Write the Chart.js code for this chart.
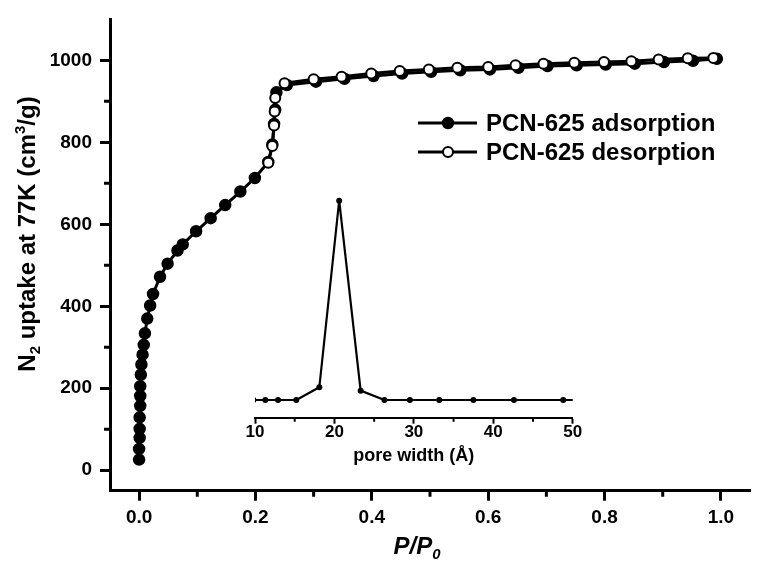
<!DOCTYPE html>
<html><head><meta charset="utf-8">
<script src="https://cdn.jsdelivr.net/npm/chart.js@4/dist/chart.umd.min.js"></script>
<style>
html,body{margin:0;padding:0;background:#fff;}
#wrap{position:relative;width:757px;height:565px;}
canvas{position:absolute;left:0;top:0;}
#inset{pointer-events:none;}
</style></head><body>
<div id="wrap"><canvas id="main" width="757" height="565"></canvas><canvas id="inset" width="757" height="565"></canvas></div>
<script>
// ---- data ----
const seriesLabels = ['PCN-625 adsorption', 'PCN-625 desorption'];
const adsP = [0.000,0.000,0.001,0.001,0.001,0.002,0.002,0.002,0.003,0.004,0.006,0.008,0.010,0.014,0.019,0.024,0.036,0.049,0.066,0.075,0.098,0.123,0.148,0.174,0.199,0.222,0.229,0.232,0.234,0.236,0.254,0.304,0.353,0.403,0.452,0.502,0.552,0.603,0.652,0.702,0.752,0.802,0.852,0.902,0.952,0.993];
const adsV = [26,52,79,101,129,157,181,205,233,258,282,306,334,370,402,430,472,504,536,551,583,615,647,680,713,752,795,845,880,922,940,948,955,962,968,972,976,978,982,986,988,990,992,996,999,1004];
const desP = [0.987,0.943,0.893,0.846,0.799,0.748,0.695,0.647,0.600,0.547,0.498,0.448,0.399,0.348,0.300,0.250,0.234,0.233,0.232,0.229,0.222];
const desV = [1006,1005,1002,998,996,994,992,988,984,982,978,974,968,960,954,944,908,875,841,791,750];
const poreW = [9.8,11.3,12.9,15.2,18.1,20.6,23.3,26.3,29.5,33.2,37.5,42.6,48.8,54];
const poreDist = [0,0,0,0,0.064,1,0.047,0,0,0,0,0,0,0];
const xTicks = [0,0.2,0.4,0.6,0.8,1.0];
const xMinor = [0.1,0.3,0.5,0.7,0.9];
const yTicks = [0,200,400,600,800,1000];
const yMinor = [100,300,500,700,900];
const insetTicks = [10,20,30,40,50];
const insetMinor = [15,25,35,45];

const FAM = "'Liberation Sans', Arial, sans-serif";

function drawRich(ctx, parts, cx, cy, rot, size, style) {
  ctx.save();
  ctx.translate(cx, cy);
  ctx.rotate(rot);
  ctx.fillStyle = '#000';
  ctx.textBaseline = 'alphabetic';
  ctx.textAlign = 'left';
  let total = 0;
  parts.forEach(p => {
    ctx.font = style + ' ' + (size * p.s) + 'px ' + FAM;
    p.w = ctx.measureText(p.t).width;
    total += p.w;
  });
  let x = -total / 2;
  const base = 0.358 * size;
  parts.forEach(p => {
    ctx.font = style + ' ' + (size * p.s) + 'px ' + FAM;
    ctx.fillText(p.t, x, base + p.dy * size);
    x += p.w;
  });
  ctx.restore();
}

const mainDecor = {
  id: 'mainDecor',
  afterDraw(chart) {
    const {ctx, chartArea: a, scales: {x, y}} = chart;
    ctx.save();
    ctx.strokeStyle = '#000';
    ctx.lineWidth = 3;
    ctx.beginPath();
    xMinor.forEach(v => { const p = x.getPixelForValue(v); ctx.moveTo(p, a.bottom); ctx.lineTo(p, a.bottom + 6); });
    yMinor.forEach(v => { const p = y.getPixelForValue(v); ctx.moveTo(a.left, p); ctx.lineTo(a.left - 6, p); });
    ctx.stroke();
    ctx.restore();
    // axis titles
    drawRich(ctx, [
      {t: 'N', s: 1, dy: 0}, {t: '2', s: 0.62, dy: 0.22},
      {t: ' uptake at 77K (cm', s: 1, dy: 0}, {t: '3', s: 0.62, dy: -0.38},
      {t: '/g)', s: 1, dy: 0}
    ], 26, 234, -Math.PI / 2, 24, 'bold');
    drawRich(ctx, [
      {t: 'P/P', s: 1, dy: 0}, {t: '0', s: 0.62, dy: 0.22}
    ], 417, 545, 0, 24, 'italic bold');
    // legend
    const rows = [{ds: chart.data.datasets[1], y: 123}, {ds: chart.data.datasets[0], y: 152}];
    rows.forEach(r => {
      ctx.save();
      ctx.strokeStyle = '#000';
      ctx.lineWidth = 3;
      ctx.beginPath(); ctx.moveTo(418, r.y); ctx.lineTo(477, r.y); ctx.stroke();
      ctx.beginPath(); ctx.arc(448, r.y, r.ds.pointRadius, 0, Math.PI * 2);
      ctx.fillStyle = r.ds.pointBackgroundColor; ctx.fill();
      ctx.lineWidth = r.ds.pointBorderWidth; ctx.strokeStyle = r.ds.pointBorderColor; ctx.stroke();
      ctx.fillStyle = '#000';
      ctx.font = 'bold 24px ' + FAM;
      ctx.textBaseline = 'middle';
      ctx.textAlign = 'left';
      ctx.fillText(r.ds.label, 486, r.y + 1);
      ctx.restore();
    });
  }
};

new Chart(document.getElementById('main'), {
  type: 'line',
  data: {
    datasets: [
      {label: seriesLabels[1], data: desP.map((p, i) => ({x: p, y: desV[i]})), borderColor: '#000', borderWidth: 3,
       pointRadius: 5, pointBorderWidth: 2, pointBackgroundColor: '#fff', pointBorderColor: '#000', tension: 0, order: 0,
       borderJoinStyle: 'round'},
      {label: seriesLabels[0], data: adsP.map((p, i) => ({x: p, y: adsV[i]})), borderColor: '#000', borderWidth: 3,
       pointRadius: 5.5, pointBorderWidth: 1.5, pointBackgroundColor: '#000', pointBorderColor: '#000', tension: 0, order: 1,
       borderJoinStyle: 'round'}
    ]
  },
  options: {
    responsive: false, animation: false, devicePixelRatio: 1,
    layout: {padding: {left: 0, right: 2, top: 15, bottom: 0}},
    plugins: {legend: {display: false}, tooltip: {enabled: false}},
    scales: {
      x: {type: 'linear', min: -0.05, max: 1.05,
        afterBuildTicks: s => { s.ticks = xTicks.map(v => ({value: v})); },
        afterFit: s => { s.height = 74.3; },
        border: {display: true, width: 3, color: '#000'},
        grid: {drawOnChartArea: false, drawTicks: true, tickLength: 10, tickWidth: 3, tickColor: '#000'},
        ticks: {color: '#000', font: {family: FAM, size: 19, weight: 'bold'}, padding: 6, maxRotation: 0,
          callback: v => Number(v).toFixed(1)}
      },
      y: {type: 'linear', min: -50, max: 1100,
        afterBuildTicks: s => { s.ticks = yTicks.map(v => ({value: v})); },
        afterFit: s => { s.width = 110; },
        border: {display: true, width: 3, color: '#000'},
        grid: {drawOnChartArea: false, drawTicks: true, tickLength: 10, tickWidth: 3, tickColor: '#000'},
        ticks: {color: '#000', font: {family: FAM, size: 19, weight: 'bold'}, padding: 8,
          callback: v => String(v)}
      }
    }
  },
  plugins: [mainDecor]
});

const insetDecor = {
  id: 'insetDecor',
  afterDraw(chart) {
    const {ctx, chartArea: a, scales: {x}} = chart;
    ctx.save();
    ctx.strokeStyle = '#000';
    ctx.lineWidth = 2;
    ctx.beginPath();
    insetMinor.forEach(v => { const p = x.getPixelForValue(v); ctx.moveTo(p, a.bottom); ctx.lineTo(p, a.bottom + 4); });
    ctx.stroke();
    ctx.restore();
  }
};

new Chart(document.getElementById('inset'), {
  type: 'line',
  data: {
    datasets: [{data: poreW.map((w, i) => ({x: w, y: poreDist[i]})), borderColor: '#000', borderWidth: 2.2,
      borderJoinStyle: 'round',
      pointRadius: 3, pointBorderWidth: 0, pointBackgroundColor: '#000', tension: 0}]
  },
  options: {
    responsive: false, animation: false, devicePixelRatio: 1,
    layout: {padding: {left: 255, right: 184.3, top: 190, bottom: 0}},
    plugins: {legend: {display: false}, tooltip: {enabled: false}},
    scales: {
      x: {type: 'linear', min: 10, max: 50,
        afterBuildTicks: s => { s.ticks = insetTicks.map(v => ({value: v})); },
        afterFit: s => { s.height = 147.3; },
        border: {display: true, width: 2, color: '#000'},
        grid: {drawOnChartArea: false, drawTicks: true, tickLength: 6, tickWidth: 2, tickColor: '#000'},
        ticks: {color: '#000', font: {family: FAM, size: 17, weight: 'bold', lineHeight: 1}, padding: 0, maxRotation: 0},
        title: {display: true, text: 'pore width (Å)', color: '#000', font: {family: FAM, size: 18, weight: 'bold', lineHeight: 1.2},
          padding: {top: 0, bottom: 98}}
      },
      y: {display: false, min: -0.0888, max: 1.0537}
    }
  },
  plugins: [insetDecor]
});
</script>
</body></html>
